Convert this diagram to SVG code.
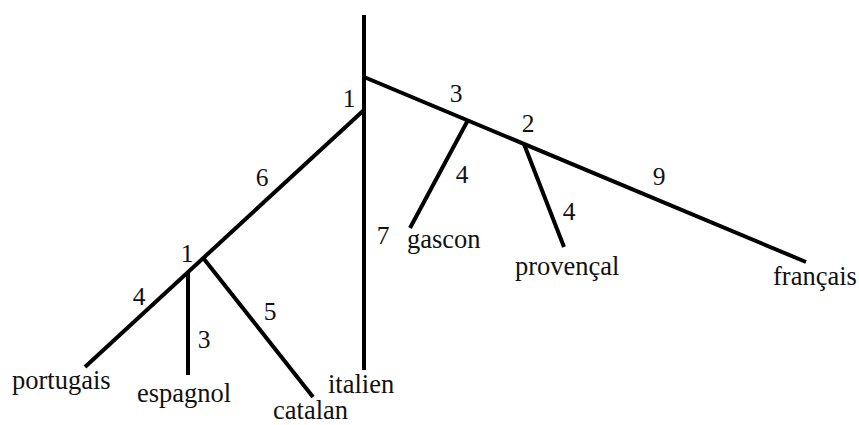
<svg xmlns="http://www.w3.org/2000/svg" width="859" height="425" viewBox="0 0 859 425">
<style>
.e{stroke:#000;stroke-width:4;fill:none;stroke-linecap:butt}
.t{font-family:"Liberation Serif","Times New Roman",serif;font-size:26.5px;fill:#111}
.n{font-family:"Liberation Serif","Times New Roman",serif;font-size:25.5px;fill:#111;text-anchor:middle}
</style>
<rect width="859" height="425" fill="#fff"/>
<g id="connectors">
<line class="e" x1="364" y1="15" x2="364" y2="370"/>
<line class="e" x1="364" y1="77" x2="806" y2="262"/>
<line class="e" x1="364" y1="110" x2="85" y2="367"/>
<line class="e" x1="188" y1="273" x2="188" y2="375"/>
<line class="e" x1="204" y1="259" x2="313" y2="397"/>
<line class="e" x1="468" y1="120" x2="410" y2="228"/>
<line class="e" x1="524" y1="144" x2="564" y2="247"/>
</g>
<g id="edge-labels">
<text class="n" x="349" y="107">1</text>
<text class="n" x="456" y="102">3</text>
<text class="n" x="528" y="132">2</text>
<text class="n" x="462" y="183">4</text>
<text class="n" x="262" y="186">6</text>
<text class="n" x="383" y="244">7</text>
<text class="n" x="187" y="262">1</text>
<text class="n" x="139" y="305">4</text>
<text class="n" x="204" y="348">3</text>
<text class="n" x="270" y="320">5</text>
<text class="n" x="659" y="185">9</text>
<text class="n" x="569" y="220">4</text>
</g>
<g id="portugais"><text class="t" x="12" y="389">portugais</text></g>
<g id="espagnol"><text class="t" x="137" y="402">espagnol</text></g>
<g id="catalan"><text class="t" x="273" y="419">catalan</text></g>
<g id="italien"><text class="t" x="328" y="393">italien</text></g>
<g id="gascon"><text class="t" x="407" y="248">gascon</text></g>
<g id="provencal"><text class="t" x="515" y="275">provençal</text></g>
<g id="francais"><text class="t" x="773" y="285">français</text></g>
</svg>
